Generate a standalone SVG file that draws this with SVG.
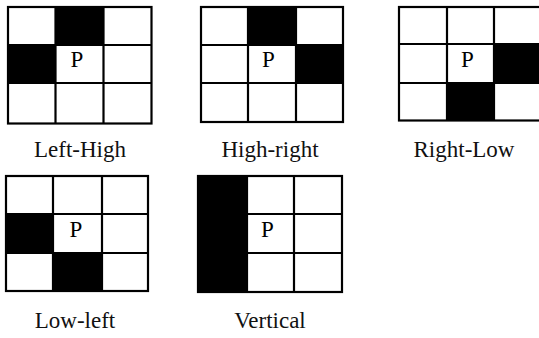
<svg xmlns="http://www.w3.org/2000/svg" width="539" height="338" viewBox="0 0 539 338">
<style>
.blk{fill:#000}
.ln{stroke:#000;stroke-width:2.2;fill:none}
text{font-family:'Liberation Serif','Times New Roman',serif;font-size:23px;fill:#000;text-anchor:middle}
.lbl{fill:#111}
</style>
<rect width="539" height="338" fill="#fff"/>
<g id="left-high">
<rect class="blk" x="55.5" y="7" width="48" height="38"/>
<rect class="blk" x="8" y="45" width="47.5" height="38"/>
<rect class="ln" x="8" y="7" width="143.5" height="116.5"/>
<path class="ln" d="M55.5 7V123.5M103.5 7V123.5M8 45H151.5M8 83H151.5"/>
<text x="77" y="67">P</text>
<text class="lbl" x="80" y="157">Left-High</text>
</g>
<g id="high-right">
<rect class="blk" x="248" y="7" width="48" height="38"/>
<rect class="blk" x="296" y="45" width="47" height="38"/>
<rect class="ln" x="201" y="7" width="142" height="115"/>
<path class="ln" d="M248 7V122M296 7V122M201 45H343M201 83H343"/>
<text x="268.5" y="67">P</text>
<text class="lbl" x="270" y="157">High-right</text>
</g>
<g id="right-low">
<rect class="blk" x="494" y="44" width="50" height="39"/>
<rect class="blk" x="447" y="83" width="47" height="37.5"/>
<rect class="ln" x="399" y="7" width="144" height="113.5"/>
<path class="ln" d="M447 7V120.5M494 7V120.5M399 44H543M399 83H543"/>
<text x="467.5" y="66.5">P</text>
<text class="lbl" x="464" y="157">Right-Low</text>
</g>
<g id="low-left">
<rect class="blk" x="6" y="214" width="47" height="39"/>
<rect class="blk" x="53" y="253" width="49" height="38"/>
<rect class="ln" x="6" y="176" width="142" height="115"/>
<path class="ln" d="M53 176V291M102 176V291M6 214H148M6 253H148"/>
<text x="76" y="236.5">P</text>
<text class="lbl" x="75" y="328">Low-left</text>
</g>
<g id="vertical">
<rect class="blk" x="198" y="176" width="49" height="116"/>
<rect class="ln" x="198" y="176" width="144" height="116"/>
<path class="ln" d="M247 176V292M294 176V292M247 214H342M247 253H342"/>
<text x="267.5" y="236.5">P</text>
<text class="lbl" x="270" y="328">Vertical</text>
</g>
<g id="connectors"/>
</svg>
